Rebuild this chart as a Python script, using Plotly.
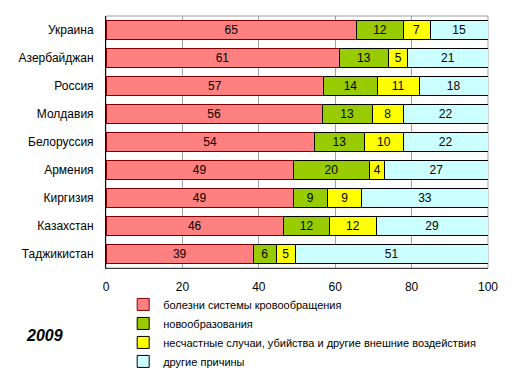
import plotly.graph_objects as go

countries = ["Украина", "Азербайджан", "Россия", "Молдавия", "Белоруссия",
             "Армения", "Киргизия", "Казахстан", "Таджикистан"]
circulatory = [65, 61, 57, 56, 54, 49, 49, 46, 39]
neoplasms = [12, 13, 14, 13, 13, 20, 9, 12, 6]
external = [7, 5, 11, 8, 10, 4, 9, 12, 5]
other = [15, 21, 18, 22, 22, 27, 33, 29, 51]

series_names = [
    "болезни системы кровообращения",
    "новообразования",
    "несчастные случаи, убийства и другие внешние воздействия",
    "другие причины",
]
series_values = [circulatory, neoplasms, external, other]
colors = ["#FF8080", "#99CC00", "#FFFF00", "#CCFFFF"]
line_colors = ["#800000", "#000000", "#000000", "#000000"]

font = "Liberation Sans, Arial, sans-serif"

fig = go.Figure()
for name, vals, c, lc in zip(series_names, series_values, colors, line_colors):
    fig.add_trace(go.Bar(
        y=countries, x=vals, name=name, orientation="h",
        marker=dict(color=c, line=dict(color=lc, width=1)),
        text=[str(v) for v in vals], textposition="inside",
        insidetextanchor="middle", textangle=0,
        textfont=dict(family=font, size=12, color="#000000"),
        hoverinfo="skip",
    ))

fig.update_layout(
    barmode="stack", barnorm="percent", bargap=0.3,
    width=515, height=376,
    margin=dict(l=106, r=27, t=16, b=108, autoexpand=False),
    paper_bgcolor="white", plot_bgcolor="white",
    font=dict(family=font, size=12, color="#000000"),
    uniformtext=dict(minsize=12, mode="show"),
    showlegend=True,
    legend=dict(
        x=0.045, y=-0.087, xanchor="left", yanchor="top",
        font=dict(family=font, size=11, color="#000000"),
        traceorder="normal", tracegroupgap=0, itemwidth=30,
        bgcolor="rgba(0,0,0,0)",
    ),
    xaxis=dict(
        range=[0, 100], tickvals=[0, 20, 40, 60, 80, 100],
        showgrid=True, gridcolor="#A0A0A0", gridwidth=1,
        showline=True, linecolor="#404040", linewidth=1, mirror=False,
        ticks="", tickfont=dict(size=12), zeroline=False,
        ticklabelstandoff=8, automargin=False,
    ),
    yaxis=dict(
        autorange="reversed", showline=True, linecolor="#000000", linewidth=1,
        ticks="", tickfont=dict(size=12), ticklabelstandoff=9,
        automargin=False,
    ),
    shapes=[
        dict(type="rect", xref="paper", yref="paper", x0=0, x1=1, y0=0, y1=1,
             line=dict(color="#A0A0A0", width=1), layer="below"),
    ],
    annotations=[
        dict(text="<b><i>2009</i></b>", xref="paper", yref="paper",
             x=-0.215, y=-0.266, xanchor="left", yanchor="middle",
             showarrow=False, font=dict(family=font, size=16, color="#000000")),
    ],
)

fig.write_html("out.html", config={"displayModeBar": False},
               post_script="document.body.style.margin='0';document.body.style.overflow='hidden';")
